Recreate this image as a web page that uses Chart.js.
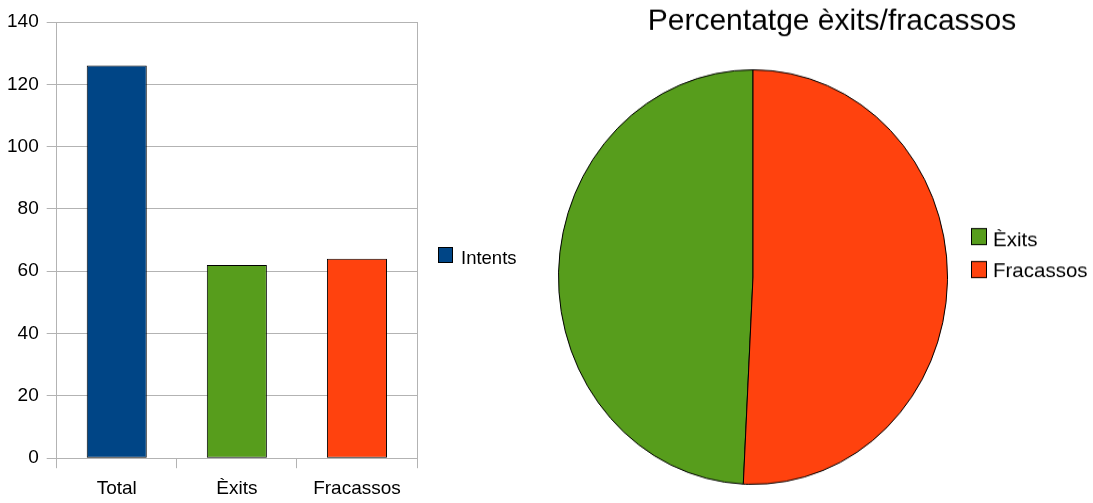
<!DOCTYPE html>
<html>
<head>
<meta charset="utf-8">
<script src="https://cdn.jsdelivr.net/npm/chart.js@4.4.0/dist/chart.umd.min.js"></script>
<style>
  html, body { margin: 0; padding: 0; background: #fff; }
  #wrap { position: relative; width: 1093px; height: 503px; overflow: hidden; }
  #barChart { position: absolute; left: 0; top: 0; }
  #pieChart { position: absolute; left: 540px; top: 0; }
</style>
</head>
<body>
<div id="wrap">
  <canvas id="barChart" width="540" height="503"></canvas>
  <!-- pie is drawn slightly squashed then stretched back, the reference pie is an ellipse -->
  <canvas id="pieChart" width="553" height="472" style="width:553px;height:503px"></canvas>
</div>
<script>
const categories = ['Total', 'Èxits', 'Fracassos'];
const intents = [126, 62, 64];
const barColors = ['#004586', '#579d1c', '#ff420e'];
const seriesLabel = 'Intents';

const pieLabels = ['Èxits', 'Fracassos'];
const pieValues = [62, 64];
const pieColors = ['#579d1c', '#ff420e'];
const pieTitle = 'Percentatge èxits/fracassos';

const FONT = "'Liberation Sans', Arial, sans-serif";
const GRID = '#b3b3b3';

// draws legend boxes (and optional title) at fixed spots, undoing any vertical stretch
const overlay = {
  id: 'overlay',
  afterDraw(chart, args, opts) {
    const ctx = chart.ctx;
    const k = opts.stretch || 1;
    ctx.save();
    ctx.scale(1, 1 / k);
    if (opts.title) {
      ctx.font = `${opts.title.size}px ${FONT}`;
      ctx.fillStyle = '#000';
      ctx.textAlign = 'center';
      ctx.textBaseline = 'alphabetic';
      ctx.fillText(opts.title.text, opts.title.x, opts.title.y);
    }
    const b = opts.box || { w: 15, h: 16, gap: 8, size: 18 };
    ctx.font = `${b.size}px ${FONT}`;
    ctx.textAlign = 'left';
    ctx.textBaseline = 'middle';
    (opts.items || []).forEach(it => {
      ctx.fillStyle = it.color;
      ctx.fillRect(it.x, it.y, b.w, b.h);
      ctx.strokeStyle = '#000';
      ctx.lineWidth = 1;
      ctx.strokeRect(it.x + 0.5, it.y + 0.5, b.w - 1, b.h - 1);
      ctx.fillStyle = '#000';
      ctx.fillText(it.text, it.x + b.w + b.gap, it.ty);
    });
    ctx.restore();
  }
};

// right hand frame line of the bar plot
const rightFrame = {
  id: 'rightFrame',
  beforeDatasetsDraw(chart) {
    const { ctx, chartArea } = chart;
    const x = Math.round(chartArea.right) + 0.5;
    ctx.save();
    ctx.strokeStyle = GRID;
    ctx.lineWidth = 1;
    ctx.beginPath();
    ctx.moveTo(x, chartArea.top);
    ctx.lineTo(x, chartArea.bottom);
    ctx.stroke();
    ctx.restore();
  }
};

new Chart(document.getElementById('barChart'), {
  type: 'bar',
  data: {
    labels: categories,
    datasets: [{
      label: seriesLabel,
      data: intents,
      backgroundColor: barColors,
      borderColor: '#000',
      borderWidth: 1,
      borderSkipped: false,
      barPercentage: 0.5,
      categoryPercentage: 1.0
    }]
  },
  options: {
    responsive: false,
    animation: false,
    events: [],
    layout: { padding: { left: -1, right: 123, top: 22, bottom: -6 } },
    plugins: {
      legend: { display: false },
      tooltip: { enabled: false },
      overlay: {
        box: { w: 15, h: 16, gap: 8, size: 18.5 },
        items: [{ text: seriesLabel, color: barColors[0], x: 438, y: 247, ty: 259 }]
      }
    },
    scales: {
      x: {
        grid: { drawOnChartArea: false, color: GRID, tickLength: 10, offset: true },
        border: { color: GRID },
        ticks: { color: '#000', font: { family: FONT, size: 19 }, padding: 9 }
      },
      y: {
        min: 0,
        max: 140,
        grid: { color: GRID, tickLength: 10 },
        border: { color: GRID },
        ticks: { stepSize: 20, color: '#000', font: { family: FONT, size: 19 }, padding: 8 }
      }
    }
  },
  plugins: [rightFrame, overlay]
});

const stretch = 503 / 472;

new Chart(document.getElementById('pieChart'), {
  type: 'pie',
  data: {
    labels: pieLabels,
    datasets: [{
      data: pieValues,
      backgroundColor: pieColors,
      borderColor: '#000',
      borderWidth: 1
    }]
  },
  options: {
    responsive: false,
    animation: false,
    events: [],
    rotation: 360 * pieValues[1] / (pieValues[0] + pieValues[1]),
    layout: { padding: { left: 18, right: 145, top: 65, bottom: 17 } },
    plugins: {
      legend: { display: false },
      tooltip: { enabled: false },
      overlay: {
        stretch: stretch,
        title: { text: pieTitle, x: 292, y: 30, size: 30 },
        box: { w: 16, h: 17, gap: 6, size: 20.5 },
        items: [
          { text: pieLabels[0], color: pieColors[0], x: 431, y: 228, ty: 240 },
          { text: pieLabels[1], color: pieColors[1], x: 431, y: 261, ty: 271 }
        ]
      }
    }
  },
  plugins: [overlay]
});
</script>
</body>
</html>
